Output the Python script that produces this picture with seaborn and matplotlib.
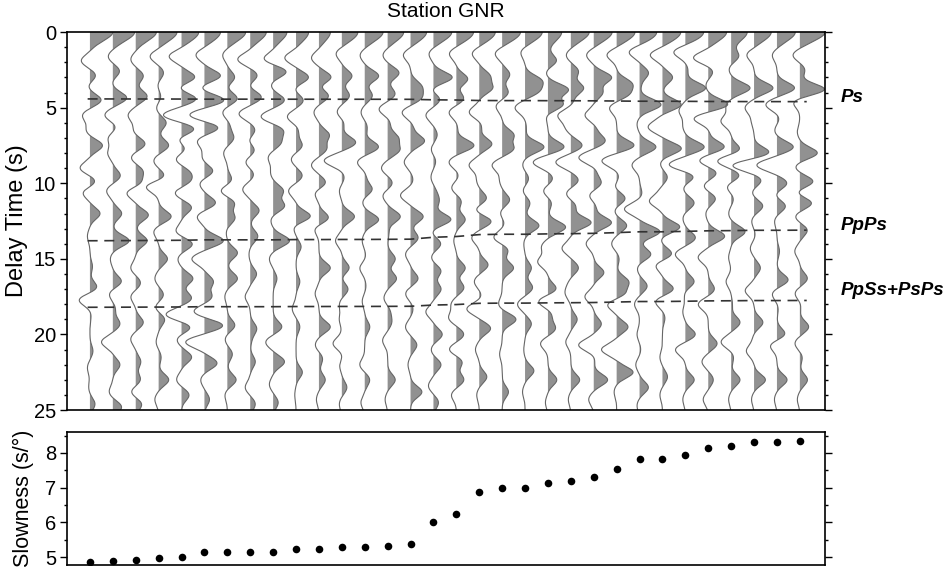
import numpy as np
import matplotlib
matplotlib.use("Agg")
import matplotlib.pyplot as plt
from matplotlib.ticker import MultipleLocator
import seaborn as sns
import pandas as pd

# slowness of each event (s/deg), left to right
slowness = [4.85, 4.88, 4.92, 4.96, 5.01, 5.15, 5.15, 5.15, 5.15, 5.24, 5.24,
            5.28, 5.28, 5.32, 5.37, 6.00, 6.25, 6.88, 7.00, 7.00, 7.12, 7.19,
            7.30, 7.54, 7.81, 7.81, 7.95, 8.14, 8.20, 8.31, 8.31, 8.35]

# direct P amplitude at t=0 (in trace spacings)
direct_p = [1.0, 0.95, 0.9, 0.8, 0.75, 0.7, 0.8, 0.7, 0.6, 0.55, 0.5, 0.7, 0.8, 0.7,
            0.7, 0.8, 0.75, 0.7, 0.8, 0.75, 0.6, 0.8, 0.8, 0.8, 0.75, 0.8, 0.8, 0.8,
            0.7, 0.75, 0.8, 1.1]

# read-off wiggle extrema per trace: "time amplitude" pairs
rf_peaks = [
    "1.9 -0.35, 2.9 0.25, 3.5 -0.1, 4.5 0.45, 5.5 -0.3, 6.5 -0.15, 7.5 0.5, 9.0 -0.4, 9.9 0.25, 10.6 -0.3, 12.0 0.4, 13.5 -0.1, 15.5 0.1, 16.9 0.3, 17.7 -0.45, 18.7 0.05, 21.1 0.12, 22.2 -0.1, 23.5 -0.05, 24.6 0.2",
    "1.6 -0.2, 2.6 0.28, 3.2 -0.05, 4.35 0.55, 5.5 -0.33, 6.3 0.15, 7.0 -0.2, 8.0 -0.2, 9.5 0.3, 10.5 -0.25, 12.0 0.35, 13.8 0.64, 15.0 -0.1, 16.5 0.35, 17.3 -0.16, 18.3 0.1, 19.3 0.28, 20.5 -0.45, 22.0 0.28, 23.8 -0.15, 24.8 0.35",
    "1.8 -0.2, 2.9 0.3, 4.25 0.45, 5.5 -0.3, 6.5 -0.1, 7.4 0.38, 8.3 -0.2, 9.2 0.28, 10.0 0.25, 10.6 -0.4, 12.1 0.5, 13.8 0.45, 15.6 -0.2, 16.6 0.2, 17.5 -0.2, 19.2 0.3, 20.3 -0.2, 21.8 0.2, 23.0 0.2, 23.8 -0.2, 24.6 0.25",
    "1.6 -0.35, 2.7 0.2, 3.5 -0.05, 4.3 0.1, 5.0 -0.1, 6.0 0.3, 7.5 0.4, 8.5 -0.2, 9.6 0.3, 10.2 -0.55, 12.2 0.5, 13.2 -0.2, 15.0 0.35, 16.3 -0.15, 17.4 0.2, 18.2 -0.15, 19.0 0.25, 20.5 -0.1, 21.5 0.1, 23.0 0.4, 24.3 -0.15",
    "1.6 -0.5, 3.0 0.55, 3.7 -0.2, 4.4 0.6, 5.5 -0.75, 6.4 0.55, 7.1 -0.2, 7.7 0.2, 8.4 -0.25, 9.3 0.3, 9.9 0.3, 10.6 -0.3, 11.6 0.4, 13.2 -0.25, 14.0 0.45, 15.0 -0.15, 16.3 0.45, 17.6 0.4, 18.7 -0.65, 19.5 0.4, 20.3 -0.2, 21.5 0.4, 23.0 -0.2, 24.0 0.3",
    "1.5 -0.35, 2.9 0.65, 3.7 -0.2, 4.5 0.8, 5.5 -0.65, 6.3 0.6, 7.2 -0.3, 8.3 -0.1, 9.2 0.35, 10.0 -0.2, 11.3 0.45, 12.2 -0.3, 13.8 0.75, 15.0 -0.5, 16.5 0.35, 17.5 0.3, 18.5 -0.45, 19.4 0.75, 20.5 -0.75, 21.9 0.5, 23.0 -0.15, 24.3 0.2",
    "1.5 -0.2, 3.0 0.3, 3.6 -0.05, 4.4 0.4, 5.3 -0.2, 6.2 0.1, 7.0 0.25, 8.0 -0.15, 9.8 0.2, 10.5 -0.3, 11.3 0.3, 12.3 0.3, 13.2 -0.05, 14.6 0.4, 16.3 0.4, 17.5 -0.1, 19.4 0.3, 20.3 -0.1, 21.3 0.2, 23.0 0.35, 24.0 -0.1",
    "1.8 -0.5, 2.9 0.3, 3.5 -0.1, 4.3 0.45, 5.4 -0.45, 6.5 0.2, 7.2 -0.1, 7.8 0.2, 8.6 -0.2, 9.4 0.15, 10.4 -0.3, 11.8 0.35, 13.5 0.3, 14.7 -0.05, 16.0 0.25, 17.5 -0.2, 19.6 0.25, 20.3 0.05, 21.8 0.2, 23.5 -0.2, 24.6 0.2",
    "1.8 -0.4, 2.6 0.55, 3.5 -0.1, 4.5 0.45, 5.6 -0.5, 6.5 0.4, 7.3 0.3, 8.3 -0.2, 9.3 -0.1, 10.5 0.4, 11.5 0.45, 12.4 -0.1, 13.8 0.65, 15.0 -0.15, 16.3 0.15, 19.5 0.35, 20.5 -0.3, 21.8 0.45, 23.3 -0.15, 24.5 0.2",
    "1.7 -0.45, 3.0 0.5, 3.8 -0.1, 4.5 0.3, 5.6 -0.35, 6.5 0.1, 7.5 0.25, 8.4 -0.2, 9.5 0.25, 10.5 -0.3, 12.2 0.6, 12.8 -0.15, 14.2 0.2, 16.5 0.15, 18.3 -0.15, 19.5 0.15, 22.5 0.25, 24.0 -0.05",
    "1.7 -0.3, 3.0 0.5, 3.6 -0.1, 4.2 0.4, 5.3 -0.2, 6.8 0.4, 7.7 0.3, 8.8 -0.3, 10.0 0.3, 10.6 -0.2, 12.3 0.4, 13.0 -0.2, 15.6 0.45, 17.3 -0.15, 19.5 0.45, 20.7 -0.15, 21.6 0.15, 23.0 0.25, 24.3 -0.1",
    "1.4 -0.25, 2.9 0.4, 4.2 0.3, 5.3 -0.2, 6.0 0.1, 7.3 0.55, 8.5 -0.7, 9.6 0.1, 10.5 -0.1, 12.2 0.5, 13.8 -0.25, 15.6 0.3, 16.2 -0.05, 17.0 0.25, 18.0 -0.1, 19.0 -0.1, 20.6 -0.35, 21.5 0.05, 22.0 -0.1, 23.5 0.2, 24.6 -0.1",
    "1.5 -0.2, 2.9 0.55, 4.2 0.3, 5.3 -0.15, 6.3 0.1, 7.6 0.55, 8.6 -0.3, 9.5 0.05, 10.4 0.3, 11.2 -0.1, 12.4 0.55, 13.8 -0.1, 14.9 0.05, 15.6 -0.2, 16.8 0.05, 17.8 -0.1, 19.5 0.2, 22.0 -0.2, 23.0 0.2, 24.5 -0.15",
    "1.5 -0.2, 2.7 0.45, 4.1 0.3, 5.1 -0.35, 6.0 0.1, 7.0 0.4, 7.8 0.45, 9.0 -0.25, 10.0 0.2, 10.8 -0.2, 12.2 0.5, 13.3 0.05, 15.0 0.3, 16.3 0.35, 17.6 -0.15, 18.5 0.1, 19.2 0.15, 20.4 -0.2, 23.0 0.3, 24.3 -0.1",
    "1.5 -0.3, 3.5 0.3, 3.9 0.2, 4.4 0.35, 5.3 -0.35, 6.3 0.1, 7.2 0.55, 8.6 -0.25, 9.8 0.1, 10.8 -0.4, 12.2 0.5, 13.6 0.3, 14.7 -0.2, 16.3 0.3, 17.3 -0.2, 18.3 0.1, 19.5 -0.2, 20.7 0.25, 22.0 -0.1, 23.8 0.45",
    "1.4 -0.2, 3.0 0.75, 3.9 -0.15, 4.4 0.3, 5.5 -0.3, 6.8 0.15, 7.8 -0.1, 8.5 0.1, 9.6 -0.1, 10.6 0.1, 11.2 0.2, 12.4 0.7, 13.2 -0.1, 14.0 0.3, 14.9 -0.1, 15.8 0.3, 17.0 0.3, 18.5 -0.3, 20.0 0.35, 21.0 -0.1, 22.0 0.3, 23.4 -0.2, 24.5 0.2",
    "1.4 -0.3, 3.1 0.45, 4.4 0.3, 5.3 -0.3, 6.3 0.05, 7.5 0.7, 8.6 -0.3, 9.5 0.1, 10.3 -0.2, 11.2 0.2, 12.4 0.35, 13.8 -0.1, 15.6 0.35, 16.9 0.3, 18.0 -0.2, 18.9 -0.3, 20.0 0.3, 21.0 -0.3, 21.8 0.25, 23.0 0.3, 24.0 -0.2",
    "1.4 -0.3, 2.9 0.4, 3.7 0.5, 5.3 -0.4, 6.2 0.1, 7.4 0.5, 8.8 -0.4, 9.8 -0.1, 11.0 0.3, 11.8 -0.2, 12.5 0.5, 13.6 -0.3, 15.4 0.35, 16.5 -0.2, 17.5 0.1, 18.3 -0.5, 19.6 0.45, 21.0 -0.15, 22.8 0.3, 24.0 -0.1",
    "1.4 -0.3, 2.8 0.3, 4.0 0.25, 4.9 -0.25, 6.8 0.45, 7.7 0.45, 8.8 -0.4, 9.8 -0.1, 11.1 0.3, 12.0 -0.1, 12.6 0.1, 13.6 -0.35, 14.4 0.25, 15.6 0.45, 18.0 -0.15, 19.0 0.55, 21.3 -0.1, 23.8 0.25",
    "1.3 -0.2, 3.2 0.6, 3.9 0.5, 5.0 -0.4, 6.3 0.05, 7.6 0.75, 8.8 -0.1, 9.7 0.15, 10.5 -0.1, 11.3 0.2, 12.8 0.55, 14.0 -0.05, 15.6 0.25, 16.9 0.3, 18.0 -0.3, 19.3 0.25, 21.0 -0.05, 22.4 0.35, 23.8 -0.1",
    "1.9 0.35, 2.6 -0.1, 3.8 0.8, 4.8 0.6, 5.5 -0.1, 7.6 0.65, 8.6 -0.6, 9.7 0.2, 10.5 -0.2, 11.3 0.15, 12.9 0.7, 14.2 -0.25, 15.2 -0.4, 17.0 0.35, 17.8 -0.4, 18.7 0.15, 19.6 0.3, 20.6 -0.3, 23.0 0.35, 24.5 -0.1",
    "1.5 -0.2, 2.6 0.3, 3.7 0.5, 4.6 0.1, 5.5 -0.5, 6.3 -0.2, 7.5 0.45, 8.6 -0.6, 9.8 0.3, 10.7 -0.2, 11.5 0.2, 12.6 0.8, 14.3 -0.35, 15.6 0.3, 16.7 -0.1, 17.3 -0.2, 19.0 0.25, 20.5 -0.2, 23.0 0.35, 24.3 -0.1",
    "1.5 -0.3, 3.0 0.7, 4.0 0.35, 5.5 -0.35, 6.4 0.1, 7.2 0.45, 8.3 -0.6, 9.2 0.1, 10.0 0.3, 10.8 -0.2, 11.5 0.1, 12.6 0.7, 14.0 -0.3, 15.9 0.4, 17.5 -0.35, 19.3 0.3, 20.7 -0.6, 21.6 0.05, 23.0 0.55, 24.3 -0.2",
    "1.5 -0.4, 3.4 0.55, 4.1 0.45, 5.0 -0.3, 7.5 0.7, 8.5 -0.6, 9.6 0.1, 10.2 -0.1, 11.0 0.35, 11.8 -0.1, 12.8 0.4, 14.0 -0.2, 15.0 0.1, 16.5 0.45, 17.3 0.35, 18.0 -0.4, 19.5 0.45, 21.0 -0.6, 22.5 0.65, 23.8 -0.1",
    "1.3 -0.45, 2.7 0.35, 3.5 0.05, 4.8 0.85, 6.1 -0.1, 7.6 0.65, 8.8 -0.3, 10.7 0.1, 11.7 -0.6, 13.2 0.8, 14.7 0.45, 15.6 -0.1, 16.8 0.3, 18.0 -0.2, 20.0 -0.1, 21.0 0.05, 22.0 -0.15, 23.5 0.35, 24.7 -0.1",
    "1.5 -0.5, 3.0 0.4, 4.8 0.75, 5.6 -0.1, 6.3 -0.55, 7.7 0.75, 8.7 -0.1, 9.6 0.2, 10.5 -0.1, 11.2 -0.5, 12.9 0.7, 13.6 -0.1, 14.7 0.4, 15.4 -0.3, 17.0 0.45, 17.8 -0.3, 18.9 0.1, 21.5 -0.1, 22.8 0.2, 24.0 -0.1",
    "1.3 -0.5, 2.5 0.1, 3.7 0.8, 5.2 -0.25, 6.2 -0.1, 7.6 0.75, 8.8 -0.7, 9.5 0.4, 10.3 -0.1, 11.3 0.35, 12.3 -0.1, 13.6 0.4, 14.7 -0.4, 16.5 0.35, 17.3 -0.05, 18.5 -0.1, 20.0 0.4, 21.0 -0.4, 23.0 0.35, 24.3 -0.1",
    "1.7 -0.6, 2.6 0.2, 3.5 -0.1, 4.8 0.8, 5.7 -0.6, 6.5 0.05, 7.6 0.65, 8.5 -0.4, 9.3 0.35, 10.2 -0.2, 11.0 0.3, 12.0 -0.1, 13.5 0.65, 14.9 -0.4, 17.0 0.25, 18.0 -0.4, 20.6 0.35, 21.8 -0.25, 23.0 0.2, 24.3 -0.2",
    "1.6 0.3, 2.4 -0.1, 3.7 0.75, 4.9 -0.2, 5.9 -0.4, 7.8 0.4, 8.5 -0.6, 9.5 0.35, 10.2 -0.2, 11.0 0.1, 12.0 -0.1, 13.2 0.55, 14.9 -0.1, 16.5 -0.2, 18.0 0.05, 19.2 0.35, 20.5 -0.4, 21.5 0.1, 23.0 0.35, 24.3 -0.1",
    "1.5 -0.3, 3.7 0.75, 5.0 -0.35, 5.9 -0.1, 8.0 0.65, 8.8 -0.9, 9.8 0.3, 10.6 -0.1, 11.5 0.35, 12.5 -0.1, 13.4 0.05, 14.3 -0.15, 15.6 0.25, 17.1 -0.35, 19.2 0.35, 20.3 -0.05, 21.1 -0.3, 23.0 0.45, 24.3 -0.1",
    "1.5 -0.2, 3.7 0.7, 4.8 -0.45, 5.7 0.1, 6.5 -0.1, 7.6 0.65, 8.8 -0.8, 10.0 0.4, 10.8 -0.1, 11.5 0.35, 12.5 -0.1, 14.5 0.1, 16.4 0.45, 17.3 -0.2, 18.3 0.05, 20.0 0.35, 20.7 -0.3, 23.0 0.4, 24.3 -0.1",
    "1.5 -0.3, 2.5 0.2, 3.8 1.0, 4.6 -0.3, 6.6 -0.1, 8.0 0.7, 8.9 -0.2, 9.9 0.55, 10.6 -0.2, 11.3 0.5, 12.2 -0.2, 13.1 0.3, 14.5 -0.2, 16.3 0.3, 17.3 -0.2, 18.0 0.05, 19.5 0.35, 20.6 -0.2, 21.5 0.1, 23.0 0.3, 24.3 -0.1",
]

# picked phases: delay at first and last trace
phase_names = ["Ps", "PpPs", "PpSs+PsPs"]
phase_t_first = [4.42, 13.8, 18.2]
phase_t_last = [4.6, 13.1, 17.75]
label_t = [4.3, 12.8, 17.1]

sns.set_theme(style="ticks")
plt.rcParams["font.family"] = ["Liberation Sans", "DejaVu Sans"]
plt.rcParams.update({"axes.linewidth": 1.2, "text.color": "black",
                     "axes.labelcolor": "black", "xtick.color": "black",
                     "ytick.color": "black"})

t = np.arange(0, 25.001, 0.02)
gain = 1.1


def make_trace(i):
    y = direct_p[i] * np.exp(-0.5 * (t / 0.56) ** 2)
    for item in rf_peaks[i].split(","):
        tk, ak = map(float, item.split())
        y += gain * ak * np.exp(-0.5 * ((t - tk) / 0.37) ** 2)
    return y


fig = plt.figure(figsize=(9.48, 5.68), dpi=100)
ax = fig.add_axes([0.0707, 0.278, 0.7996, 0.6655])
ax2 = fig.add_axes([0.0707, 0.0053, 0.7996, 0.234])

for i in range(len(slowness)):
    amp = make_trace(i)
    ax.fill_betweenx(t, i, i + amp, where=amp > 0, interpolate=True,
                     color="#919191", lw=0)
    ax.plot(i + amp, t, color="#666666", lw=0.8)

idx = np.arange(len(slowness))
p = np.array(slowness)
frac = (p - p[0]) / (p[-1] - p[0])
for name, t0, t1, tl in zip(phase_names, phase_t_first, phase_t_last, label_t):
    tp = t0 + (t1 - t0) * frac
    ax.plot(np.r_[idx[0] - 0.1, idx, idx[-1] + 0.3], np.r_[tp[0], tp, tp[-1]],
            color="#333333", lw=1.2, dashes=(6, 4))
    ax.text(1.02, tl, name, transform=ax.get_yaxis_transform(), fontsize=13.5,
            fontweight="bold", fontstyle="italic", va="center", ha="left")

ax.set_xlim(-1.0, 32.1)
ax.set_ylim(25, 0)
ax.set_xticks([])
ax.yaxis.set_major_locator(MultipleLocator(5))
ax.yaxis.set_minor_locator(MultipleLocator(1))
ax.tick_params(axis="y", which="both", right=True, direction="out",
               labelsize=14.5, width=1, pad=3)
ax.tick_params(axis="y", which="major", length=5)
ax.tick_params(axis="y", which="minor", length=2.5)
ax.set_ylabel("Delay Time (s)", fontsize=17, labelpad=4)
ax.set_title("Station GNR", fontsize=15, pad=11)

sns.scatterplot(x=idx, y=slowness, ax=ax2, color="black", s=30, linewidth=0)
ax2.set_xlim(-1.0, 32.1)
ax2.set_ylim(4.77, 8.6)
ax2.set_xticks([])
ax2.yaxis.set_major_locator(MultipleLocator(1))
ax2.yaxis.set_minor_locator(MultipleLocator(0.5))
ax2.tick_params(axis="y", which="both", right=True, direction="out",
                labelsize=14.5, width=1, pad=3)
ax2.tick_params(axis="y", which="major", length=5)
ax2.tick_params(axis="y", which="minor", length=2.5)
ax2.set_ylabel("Slowness (s/°)", fontsize=15.5, labelpad=8)

for a in (ax, ax2):
    for s in a.spines.values():
        s.set_visible(True)
        s.set_color("black")

fig.savefig("out.png", dpi=100)
